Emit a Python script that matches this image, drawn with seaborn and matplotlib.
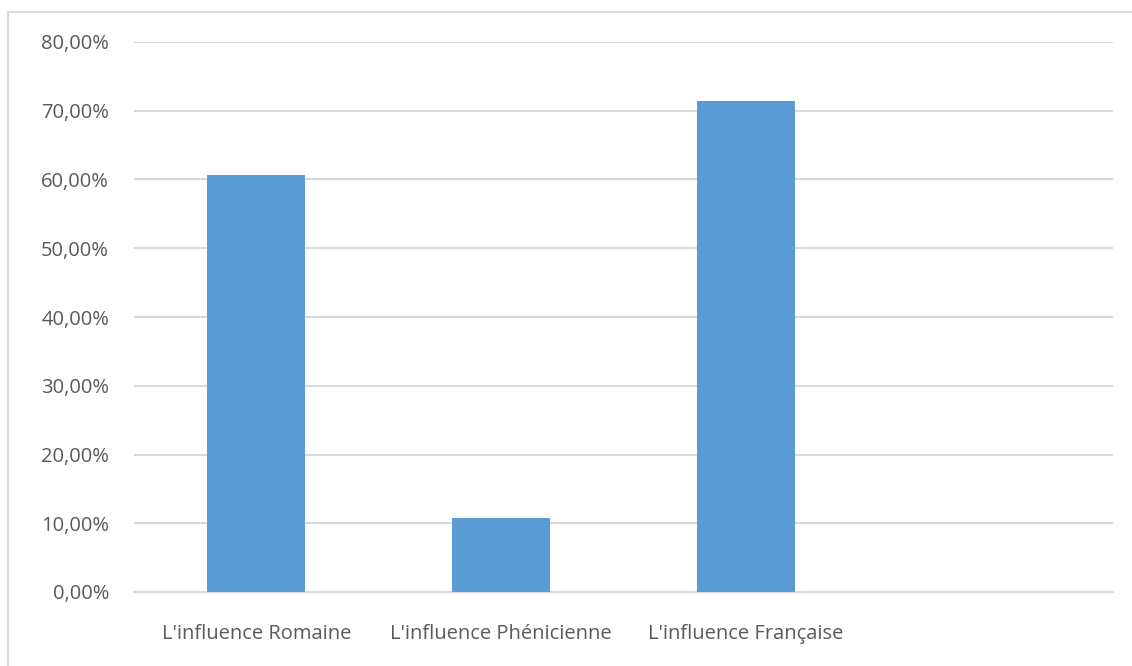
import matplotlib
matplotlib.use("Agg")
import matplotlib.pyplot as plt
from matplotlib.ticker import FuncFormatter, MultipleLocator
from matplotlib.patches import Rectangle
import seaborn as sns
import pandas as pd

categories = ["L'influence Romaine", "L'influence Phénicienne", "L'influence Française"]
slots = categories + [" "]
values = [0.6071, 0.1071, 0.7143]

sns.set_theme(style="white")
plt.rcParams['font.family'] = ['Open Sans', 'DejaVu Sans']

df = pd.DataFrame({"cat": categories, "val": values})

fig = plt.figure(figsize=(11.32, 6.66), dpi=100)
fig.patch.set_facecolor("white")
fig.patches.append(Rectangle((8/1132, -0.1), 1.2, 1 - 12/666 + 0.1, transform=fig.transFigure,
                             fill=False, edgecolor="#d9d9d9", linewidth=1.5))
ax = fig.add_axes([134/1132, 74/666, (1113-134)/1132, (592-42)/666])

sns.barplot(data=df, x="cat", y="val", order=slots, color="#5B9BD5", width=0.4,
            saturation=1, ax=ax, errorbar=None, linewidth=0)

ax.set_ylim(0, 0.8)
ax.set_xlim(-0.5, 3.5)
ax.yaxis.set_major_locator(MultipleLocator(0.1))
ax.yaxis.set_major_formatter(FuncFormatter(lambda v, p: f"{v*100:.2f}%".replace(".", ",")))
ax.grid(axis="y", color="#d9d9d9", linewidth=1.5)
ax.set_axisbelow(True)
ax.axhline(0, color="#d9d9d9", linewidth=1.5, clip_on=False, zorder=0)
for s in ax.spines.values():
    s.set_visible(False)
ax.set_xlabel("")
ax.set_ylabel("")
ax.tick_params(axis="y", length=0, pad=18, labelsize=14.5, labelcolor="#595959")
ax.tick_params(axis="x", length=0, pad=23, labelsize=14.5, labelcolor="#595959")

fig.savefig("out.png", dpi=100, facecolor="white")
